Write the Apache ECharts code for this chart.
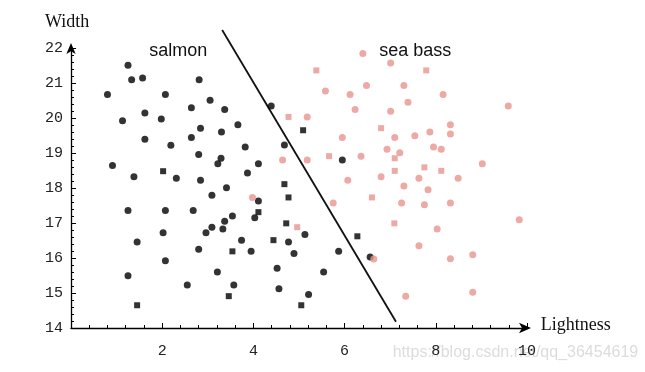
<!DOCTYPE html>
<html>
<head>
<meta charset="utf-8">
<script src="https://cdn.jsdelivr.net/npm/echarts@6/dist/echarts.min.js"></script>
<style>html,body{margin:0;padding:0;background:#fff}#c{width:645px;height:372px}</style>
</head>
<body>
<div id="c"></div>
<script>
// salmon (black), round markers: [lightness, width]
const salmonRound = [
[1.25,21.51],[1.33,21.09],[1.57,21.14],[2.81,21.09],[0.80,20.67],[2.07,20.67],[3.05,20.51],
[2.64,20.29],[3.37,20.24],[1.62,20.14],[1.13,19.92],[1.98,19.97],[3.66,19.81],[2.84,19.71],
[3.30,19.60],[1.62,19.39],[2.64,19.44],[2.19,19.22],[2.80,18.96],[3.29,18.85],[3.22,18.69],
[0.91,18.64],[1.38,18.32],[2.31,18.28],[2.84,18.22],[3.41,18.01],[4.39,20.34],[4.68,19.23],
[3.82,19.17],[4.11,18.69],[5.95,18.80],[3.87,18.43],[3.09,17.79],[1.25,17.36],[2.07,17.36],
[2.68,17.36],[3.54,17.20],[3.37,17.05],[2.02,16.72],[2.96,16.72],[3.09,16.88],[3.33,16.83],
[1.45,16.46],[2.80,16.25],[2.07,15.92],[3.21,15.60],[1.25,15.49],[2.55,15.23],[3.57,15.23],
[4.11,17.63],[4.03,17.15],[5.13,16.67],[3.74,16.51],[4.77,16.46],[3.95,16.19],[4.89,16.13],
[5.87,16.19],[6.56,16.03],[4.52,15.71],[5.54,15.60],[4.56,15.12],[5.21,14.96]
];
// salmon (black), square markers
const salmonSquare = [
[2.02,18.48],[5.09,19.65],[4.68,18.11],[3.54,16.19],[3.46,14.91],[1.45,14.65],[4.77,17.73],
[4.11,17.31],[4.72,16.99],[4.44,16.51],[6.28,16.62],[5.05,14.65]
];
// sea bass (pink), round markers
const seaBassRound = [
[6.40,21.84],[6.48,20.93],[5.58,20.77],[6.12,20.67],[6.23,20.24],[5.18,20.03],[5.95,19.44],
[6.36,18.91],[4.64,18.80],[5.18,18.80],[6.07,18.22],[7.01,21.57],[7.30,20.93],[8.16,20.67],
[7.39,20.45],[7.01,20.19],[9.59,20.34],[8.32,19.81],[7.87,19.60],[8.32,19.54],[7.10,19.44],
[7.54,19.49],[6.93,19.11],[7.21,19.01],[7.95,19.17],[8.12,19.11],[9.02,18.69],[6.80,18.32],
[7.63,18.28],[8.49,18.28],[7.30,18.06],[7.83,17.95],[3.98,17.73],[5.75,17.57],[6.64,15.97],
[7.25,17.57],[7.75,17.52],[8.32,17.57],[8.03,16.83],[9.83,17.09],[7.63,16.35],[8.32,15.98],
[8.81,16.09],[7.34,14.91],[8.81,15.02]
];
// sea bass (pink), square markers
const seaBassSquare = [
[5.38,21.36],[4.77,20.03],[5.66,18.91],[7.79,21.36],[6.80,19.71],[7.10,18.85],[7.75,18.59],
[7.10,18.49],[8.12,18.49],[6.60,17.73],[4.96,16.88],[7.09,16.99]
];
// decision boundary end points
const boundary = [[3.315,22.514],[7.127,14.18]];
const xTickLabels = [2,4,6,8,10];
const yTickLabels = [14,15,16,17,18,19,20,21,22];

const BLACK = '#000';
const PINK = '#e9958f';
const labelFont = {fontFamily:'Liberation Mono', fontSize:15, color:'#222'};

const chart = echarts.init(document.getElementById('c'), null, {renderer:'canvas'});
chart.setOption({
  animation:false,
  backgroundColor:'#fff',
  grid:{left:71, right:118, top:48, bottom:44, containLabel:false},
  xAxis:{
    type:'value', min:0, max:10, interval:2,
    axisLine:{show:true, onZero:false, lineStyle:{color:'#000', width:1.3},
      symbol:['none','arrow'], symbolSize:[8,12], symbolOffset:[0,4]},
    axisTick:{show:true, inside:true, length:5, lineStyle:{color:'#000'}},
    minorTick:{show:true, splitNumber:5, length:3, lineStyle:{color:'#000'}},
    splitLine:{show:false},
    axisLabel:Object.assign({margin:16, showMaxLabel:true,
      formatter:v => xTickLabels.includes(v) ? String(v) : ''}, labelFont)
  },
  yAxis:{
    type:'value', min:14, max:22, interval:1,
    axisLine:{show:true, onZero:false, lineStyle:{color:'#000', width:1.3},
      symbol:['none','arrow'], symbolSize:[7,11], symbolOffset:[0,5]},
    axisTick:{show:true, inside:true, length:5, lineStyle:{color:'#000'}},
    minorTick:{show:true, splitNumber:5, length:3, lineStyle:{color:'#000'}},
    splitLine:{show:false},
    axisLabel:Object.assign({margin:8, padding:[4,0,0,0],
      formatter:v => yTickLabels.includes(v) ? String(v) : ''}, labelFont)
  },
  series:[
    {type:'line', data:boundary, clip:false, symbol:'none', silent:true,
     lineStyle:{color:'#111', width:1.8}, z:1},
    {type:'scatter', data:salmonRound, symbol:'circle', symbolSize:7, itemStyle:{color:BLACK}, z:3},
    {type:'scatter', data:salmonSquare, symbol:'rect', symbolSize:6, itemStyle:{color:BLACK}, z:3},
    {type:'scatter', data:seaBassRound, symbol:'circle', symbolSize:7, itemStyle:{color:PINK}, z:3},
    {type:'scatter', data:seaBassSquare, symbol:'rect', symbolSize:6, itemStyle:{color:PINK}, z:3}
  ],
  graphic:[
    {type:'text', z:0, x:392.7, y:353, style:{text:'https://blog.csdn.net/qq_36454619', font:'16px "Liberation Sans"', fill:'#dcdcdc', textAlign:'left', textVerticalAlign:'middle'}},
    {type:'text', z:10, x:45, y:22.5, style:{text:'Width', font:'18px "Liberation Serif"', fill:'#111', textAlign:'left', textVerticalAlign:'middle'}},
    {type:'text', z:10, x:540.7, y:325, style:{text:'Lightness', font:'18px "Liberation Serif"', fill:'#111', textAlign:'left', textVerticalAlign:'middle'}},
    {type:'text', z:10, x:149.3, y:51.5, style:{text:'salmon', font:'18px "Liberation Sans"', fill:'#111', textAlign:'left', textVerticalAlign:'middle'}},
    {type:'text', z:10, x:379.3, y:51, style:{text:'sea bass', font:'18px "Liberation Sans"', fill:'#111', textAlign:'left', textVerticalAlign:'middle'}}
  ]
});
</script>
</body>
</html>
